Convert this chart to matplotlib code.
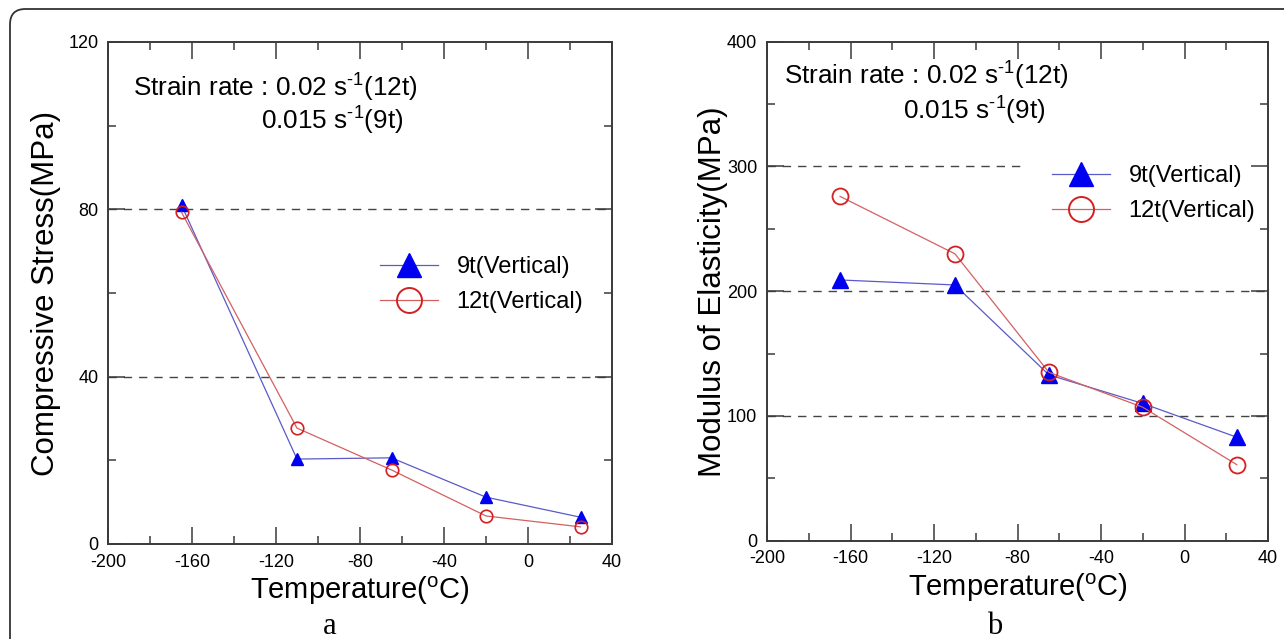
import numpy as np
import matplotlib
matplotlib.use("Agg")
import matplotlib.pyplot as plt
from matplotlib.lines import Line2D
from matplotlib.patches import FancyBboxPatch

plt.rcParams['font.family'] = ['Liberation Sans', 'DejaVu Sans']
plt.rcParams['mathtext.fontset'] = 'custom'
plt.rcParams['mathtext.rm'] = 'Liberation Sans'
plt.rcParams['mathtext.it'] = 'Liberation Sans:italic'
plt.rcParams['axes.unicode_minus'] = False

# data
temp = [-165, -110, -65, -20, 25]
stress_9t = [81, 20.3, 20.6, 11.2, 6.4]
stress_12t = [79.3, 27.7, 17.7, 6.7, 4.1]
mod_9t = [209, 205, 133, 110, 83]
mod_12t = [276, 230, 135, 107, 61]

xticks = [-200, -160, -120, -80, -40, 0, 40]
series_names = ['9t(Vertical)', '12t(Vertical)']

blue_line = '#5a5ac8'
blue_mk = '#0000f0'
red_line = '#d46060'
red_mk = '#d42020'
axis_col = '#3a3a3a'

fig = plt.figure(figsize=(12.84, 6.39), dpi=100)

# outer rounded frame, top-left corner at (10, 9) px
frame = FancyBboxPatch((10 / 1284, -1.0), 1.5, 2.0 - 9 / 639,
                       boxstyle="round,pad=0,rounding_size=0.012",
                       transform=fig.transFigure, facecolor='none', edgecolor='#333333',
                       linewidth=1.3, mutation_aspect=1284 / 639)
fig.patches.append(frame)


def style_axes(ax, ymax, ymajor, yminor, grid_vals):
    ax.set_xlim(-200, 40)
    ax.set_ylim(0, ymax)
    ax.set_xticks(xticks)
    ax.set_xticks(np.arange(-200, 41, 20), minor=True)
    ax.set_yticks(np.arange(0, ymax + 1, ymajor))
    ax.set_yticks(np.arange(0, ymax + 1, yminor), minor=True)
    ax.tick_params(which='both', direction='in', top=True, right=True, colors=axis_col,
                   labelcolor='black', labelsize=13, width=1.1)
    ax.tick_params(which='major', length=12, pad=7)
    ax.tick_params(which='minor', length=6)
    for s in ax.spines.values():
        s.set_color(axis_col)
        s.set_linewidth(1.4)
    for g in grid_vals:
        ax.axhline(g, color='#444444', lw=1.0, ls=(0, (6, 5)), zorder=1)
    ax.set_xlabel('Temperature($^{\\mathrm{o}}$C)', fontsize=21, labelpad=3)


def add_legend(ax, x, y):
    handles = [
        Line2D([], [], color=blue_line, lw=0.9, marker='^', markersize=17,
               markerfacecolor=blue_mk, markeredgecolor=blue_mk),
        Line2D([], [], color=red_line, lw=0.9, marker='o', markersize=18,
               markerfacecolor='none', markeredgecolor=red_mk, markeredgewidth=1.4),
    ]
    leg = ax.legend(handles, series_names, loc='center left', bbox_to_anchor=(x, y),
                    fontsize=17, handlelength=2.45, handletextpad=0.8, labelspacing=0.55,
                    borderpad=1.1, borderaxespad=0, frameon=True, framealpha=1, fancybox=False)
    leg.get_frame().set_edgecolor('none')
    leg.set_zorder(1.2)


def add_rate(ax, x1, y1, x2, y2):
    ax.text(x1, y1, 'Strain rate : 0.02 s$^{\\text{-}1}$(12t)', transform=ax.transAxes,
            fontsize=18.8, ha='left', va='center')
    ax.text(x2, y2, '0.015 s$^{\\text{-}1}$(9t)', transform=ax.transAxes,
            fontsize=18.8, ha='left', va='center')


# panel a
ax1 = fig.add_axes([108 / 1284, 1 - 544 / 639, 504 / 1284, 502 / 639])
style_axes(ax1, 120, 40, 20, [40, 80])
ax1.plot(temp, stress_9t, color=blue_line, lw=0.9, marker='^', markersize=9,
         markerfacecolor=blue_mk, markeredgecolor=blue_mk, zorder=3)
ax1.plot(temp, stress_12t, color=red_line, lw=0.9, marker='o', markersize=9,
         markerfacecolor='none', markeredgecolor=red_mk, markeredgewidth=1.2, zorder=3)
ax1.set_ylabel('Compressive Stress(MPa)', fontsize=22.5, labelpad=5)
add_rate(ax1, 0.05, 0.908, 0.304, 0.843)
add_legend(ax1, 0.488, 0.517)

# panel b
ax2 = fig.add_axes([767 / 1284, 1 - 540.7 / 639, 501 / 1284, 499 / 639])
style_axes(ax2, 400, 100, 50, [100, 200, 300])
ax2.plot(temp, mod_9t, color=blue_line, lw=0.9, marker='^', markersize=11,
         markerfacecolor=blue_mk, markeredgecolor=blue_mk, zorder=3)
ax2.plot(temp, mod_12t, color=red_line, lw=0.9, marker='o', markersize=11.5,
         markerfacecolor='none', markeredgecolor=red_mk, markeredgewidth=1.3, zorder=3)
ax2.set_ylabel('Modulus of Elasticity(MPa)', fontsize=22.5, labelpad=-1)
add_rate(ax2, 0.034, 0.931, 0.271, 0.862)
add_legend(ax2, 0.517, 0.695)

fig.text(330 / 1284, 1 - 627 / 639, 'a', fontsize=22, family='Liberation Serif', ha='center', va='center')
fig.text(995 / 1284, 1 - 627 / 639, 'b', fontsize=22, family='Liberation Serif', ha='center', va='center')

fig.savefig('out.png', dpi=100)
